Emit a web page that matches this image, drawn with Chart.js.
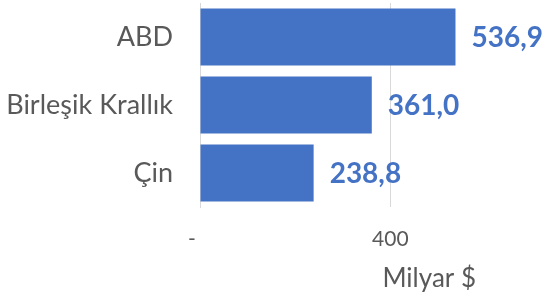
<!DOCTYPE html>
<html>
<head>
<meta charset="utf-8">
<script src="https://cdn.jsdelivr.net/npm/chart.js@4/dist/chart.umd.min.js"></script>
<style>
  html, body { margin: 0; padding: 0; background: #fff; }
  #wrap { width: 546px; height: 298px; overflow: hidden; }
</style>
</head>
<body>
<div id="wrap"><canvas id="chart" width="546" height="298"></canvas></div>
<script>
// veriler
const countries = ['ABD', 'Birleşik Krallık', 'Çin'];
const values = [536.9, 361.0, 238.8];
const tickValues = [0, 400];
const axisTitle = 'Milyar $';

const blue = '#4472C4';
const gray = '#595959';

// bar ucuna değer yaz
const valueLabels = {
    id: 'valueLabels',
    afterDatasetsDraw(chart) {
        const ctx = chart.ctx;
        const meta = chart.getDatasetMeta(0);
        ctx.save();
        ctx.font = 'bold 28px Lato';
        ctx.fillStyle = blue;
        ctx.textAlign = 'left';
        ctx.textBaseline = 'middle';
        meta.data.forEach((bar, i) => {
            const txt = values[i].toFixed(1).replace('.', ',');
            ctx.fillText(txt, bar.x + 16, bar.y + 1);
        });
        ctx.restore();
    }
};

new Chart(document.getElementById('chart').getContext('2d'), {
    type: 'bar',
    data: {
        labels: countries,
        datasets: [{
            data: values,
            backgroundColor: blue,
            barPercentage: 0.84,
            categoryPercentage: 1
        }]
    },
    options: {
        indexAxis: 'y',
        responsive: false,
        animation: false,
        layout: {padding: {top: 3, right: 70}},
        plugins: {legend: {display: false}, tooltip: {enabled: false}},
        scales: {
            x: {
                min: 0,
                max: 580,
                afterBuildTicks: s => { s.ticks = tickValues.map(v => ({value: v})); },
                grid: {color: '#d9d9d9', drawTicks: false},
                border: {display: false},
                ticks: {
                    callback: v => v === 0 ? '-   ' : v,
                    font: {family: 'Lato', size: 21},
                    color: gray,
                    padding: 20
                },
                title: {
                    display: true,
                    text: axisTitle,
                    align: 'end',
                    font: {family: 'Lato', size: 26},
                    color: gray,
                    padding: {top: 0, bottom: 4}
                },
                afterFit: s => { s.height = 91; }
            },
            y: {
                grid: {display: false, drawTicks: false},
                border: {display: true, color: '#d9d9d9'},
                ticks: {
                    font: {family: 'Lato', size: 27},
                    color: gray,
                    padding: 27
                },
                afterFit: s => {
                    s.width = 200;
                    s.paddingTop = 0;
                    s.paddingBottom = 0;
                }
            }
        }
    },
    plugins: [valueLabels]
});
</script>
</body>
</html>
